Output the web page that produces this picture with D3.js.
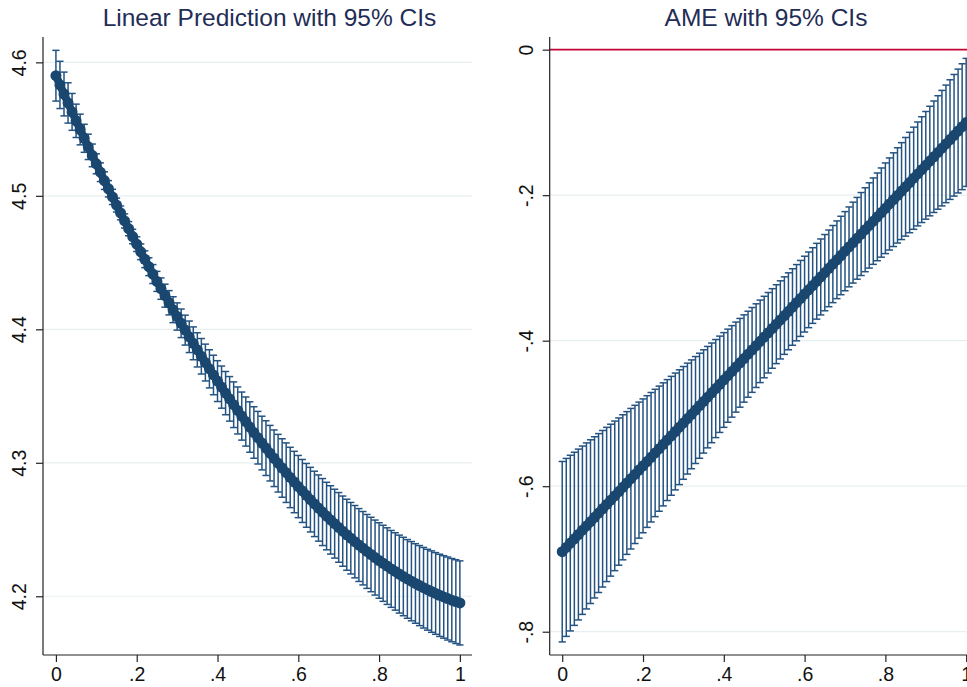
<!DOCTYPE html>
<html>
<head>
<meta charset="utf-8">
<script src="https://cdn.jsdelivr.net/npm/d3@7"></script>
<style>
  html, body { margin: 0; padding: 0; background: #ffffff; }
  svg { display: block; }
</style>
</head>
<body>
<div id="chart"></div>
<script>
// ---------- data ----------
const atValues = [0,.01,.02,.03,.04,.05,.06,.07,.08,.09,.10,.11,.12,.13,.14,.15,.16,.17,.18,.19,.20,.21,.22,.23,.24,.25,.26,.27,.28,.29,.30,.31,.32,.33,.34,.35,.36,.37,.38,.39,.40,.41,.42,.43,.44,.45,.46,.47,.48,.49,.50,.51,.52,.53,.54,.55,.56,.57,.58,.59,.60,.61,.62,.63,.64,.65,.66,.67,.68,.69,.70,.71,.72,.73,.74,.75,.76,.77,.78,.79,.80,.81,.82,.83,.84,.85,.86,.87,.88,.89,.90,.91,.92,.93,.94,.95,.96,.97,.98,.99,1];

const lpMean = [4.5900,4.5831,4.5763,4.5696,4.5629,4.5562,4.5497,4.5431,4.5367,4.5303,4.5240,4.5177,4.5114,4.5053,4.4992,4.4931,4.4872,4.4812,4.4754,4.4695,4.4638,4.4581,4.4525,4.4469,4.4414,4.4359,4.4305,4.4252,4.4199,4.4147,4.4096,4.4045,4.3994,4.3944,4.3895,4.3846,4.3798,4.3751,4.3704,4.3658,4.3612,4.3567,4.3522,4.3479,4.3435,4.3392,4.3350,4.3309,4.3268,4.3227,4.3188,4.3148,4.3110,4.3072,4.3034,4.2997,4.2961,4.2926,4.2890,4.2856,4.2822,4.2789,4.2756,4.2724,4.2692,4.2661,4.2631,4.2601,4.2572,4.2544,4.2516,4.2488,4.2461,4.2435,4.2409,4.2384,4.2360,4.2336,4.2313,4.2290,4.2268,4.2247,4.2226,4.2205,4.2186,4.2166,4.2148,4.2130,4.2113,4.2096,4.2080,4.2064,4.2049,4.2035,4.2021,4.2007,4.1995,4.1983,4.1971,4.1960,4.1950];

const lpHalf = [.0190,.0177,.0164,.0151,.0138,.0125,.0115,.0105,.0095,.0085,.0075,.0070,.0066,.0061,.0057,.0052,.0052,.0053,.0053,.0054,.0055,.0059,.0063,.0067,.0071,.0075,.0080,.0086,.0091,.0097,.0102,.0107,.0112,.0118,.0123,.0128,.0133,.0138,.0143,.0148,.0153,.0158,.0162,.0167,.0171,.0176,.0180,.0184,.0189,.0193,.0197,.0201,.0205,.0208,.0212,.0216,.0219,.0223,.0226,.0230,.0233,.0236,.0239,.0242,.0245,.0248,.0251,.0253,.0256,.0258,.0261,.0263,.0266,.0268,.0271,.0273,.0275,.0277,.0279,.0281,.0283,.0285,.0287,.0288,.0290,.0292,.0294,.0295,.0297,.0298,.0300,.0302,.0303,.0305,.0306,.0308,.0309,.0311,.0312,.0314,.0315];

const ameMean = [-.6900,-.6841,-.6782,-.6723,-.6664,-.6605,-.6546,-.6487,-.6428,-.6369,-.6310,-.6251,-.6192,-.6133,-.6074,-.6015,-.5956,-.5897,-.5838,-.5779,-.5720,-.5661,-.5602,-.5543,-.5484,-.5425,-.5366,-.5307,-.5248,-.5189,-.5130,-.5071,-.5012,-.4953,-.4894,-.4835,-.4776,-.4717,-.4658,-.4599,-.4540,-.4481,-.4422,-.4363,-.4304,-.4245,-.4186,-.4127,-.4068,-.4009,-.3950,-.3891,-.3832,-.3773,-.3714,-.3655,-.3596,-.3537,-.3478,-.3419,-.3360,-.3301,-.3242,-.3183,-.3124,-.3065,-.3006,-.2947,-.2888,-.2829,-.2770,-.2711,-.2652,-.2593,-.2534,-.2475,-.2416,-.2357,-.2298,-.2239,-.2180,-.2121,-.2062,-.2003,-.1944,-.1885,-.1826,-.1767,-.1708,-.1649,-.1590,-.1531,-.1472,-.1413,-.1354,-.1295,-.1236,-.1177,-.1118,-.1059,-.1000];

const ameHalf = [.1240,.1223,.1207,.1190,.1174,.1157,.1141,.1125,.1108,.1092,.1076,.1060,.1044,.1028,.1012,.0997,.0981,.0966,.0950,.0935,.0920,.0905,.0890,.0875,.0860,.0846,.0831,.0817,.0803,.0789,.0775,.0762,.0748,.0735,.0722,.0710,.0697,.0685,.0674,.0662,.0651,.0640,.0629,.0619,.0610,.0600,.0591,.0583,.0575,.0567,.0560,.0553,.0547,.0542,.0537,.0533,.0529,.0526,.0524,.0522,.0521,.0520,.0520,.0521,.0522,.0524,.0527,.0530,.0534,.0539,.0544,.0549,.0556,.0562,.0570,.0577,.0586,.0594,.0603,.0613,.0623,.0633,.0644,.0655,.0666,.0678,.0690,.0702,.0714,.0727,.0740,.0753,.0766,.0780,.0794,.0808,.0822,.0836,.0851,.0865,.0880];

const xTicks = [0, 0.2, 0.4, 0.6, 0.8, 1];
const lpYTicks = [4.2, 4.3, 4.4, 4.5, 4.6];
const ameYTicks = [-0.8, -0.6, -0.4, -0.2, 0];
const titles = ["Linear Prediction with 95% CIs", "AME with 95% CIs"];
const refLineValue = 0;

// ---------- drawing ----------
const W = 967, H = 687;
const FONT = "'Liberation Sans', Arial, Helvetica, sans-serif";
const NAVY = "#1a476f";
const BAR = "#245382";
const GRID = "#e8eff1";
const TITLE = "#1f2d57";

const svg = d3.select("#chart").append("svg")
  .attr("width", W).attr("height", H)
  .attr("viewBox", `0 0 ${W} ${H}`);

const fmt = d => String(d).replace("0.", ".");

function panel(cfg) {
  const { left, right, top, bottom, xDomain, yDomain, mean, half, yTicks, title, titleX, refLine } = cfg;
  const x = d3.scaleLinear().domain(xDomain).range([left, right]);
  const y = d3.scaleLinear().domain(yDomain).range([bottom, top]);
  const g = svg.append("g");

  // gridlines
  g.append("g").selectAll("line").data(yTicks.filter(v => !(refLine !== undefined && v === refLine)))
    .join("line")
    .attr("x1", left).attr("x2", right)
    .attr("y1", d => y(d)).attr("y2", d => y(d))
    .attr("stroke", GRID).attr("stroke-width", 1.2);

  // reference line
  if (refLine !== undefined) {
    g.append("line")
      .attr("x1", left).attr("x2", right)
      .attr("y1", y(refLine)).attr("y2", y(refLine))
      .attr("stroke", "#c10534").attr("stroke-width", 1.6);
  }

  // y axis
  const ya = g.append("g").attr("transform", `translate(${left},0)`)
    .call(d3.axisLeft(y).tickValues(yTicks).tickSize(7).tickFormat(fmt));
  ya.select(".domain").attr("d", `M0,${top}V${bottom}`).attr("stroke", "#222").attr("stroke-width", 1.2);
  ya.selectAll(".tick line").attr("stroke", "#222").attr("stroke-width", 1.2);
  ya.selectAll(".tick text")
    .attr("x", 0).attr("y", -17).attr("dy", null)
    .attr("text-anchor", "middle")
    .attr("transform", "rotate(-90)")
    .attr("font-family", FONT).attr("font-size", 19.5).attr("fill", "#111");

  // x axis
  const xa = g.append("g").attr("transform", `translate(0,${bottom})`)
    .call(d3.axisBottom(x).tickValues(xTicks).tickSize(7).tickFormat(fmt));
  xa.select(".domain").attr("d", `M${left},0H${right}`).attr("stroke", "#222").attr("stroke-width", 1.2);
  xa.selectAll(".tick line").attr("stroke", "#222").attr("stroke-width", 1.2);
  xa.selectAll(".tick text")
    .attr("y", 26).attr("dy", null)
    .attr("font-family", FONT).attr("font-size", 19.5).attr("fill", "#111");

  const data = atValues.map((v, i) => ({ x: v, m: mean[i], lo: mean[i] - half[i], hi: mean[i] + half[i] }));

  // error bars
  const eb = g.append("g").attr("stroke", BAR).attr("stroke-width", 1.5).attr("fill", "none");
  eb.selectAll("line.v").data(data).join("line").attr("class", "v")
    .attr("x1", d => x(d.x)).attr("x2", d => x(d.x))
    .attr("y1", d => y(d.lo)).attr("y2", d => y(d.hi));
  eb.selectAll("line.cl").data(data).join("line").attr("class", "cl")
    .attr("x1", d => x(d.x) - 3.6).attr("x2", d => x(d.x) + 3.6)
    .attr("y1", d => y(d.lo)).attr("y2", d => y(d.lo));
  eb.selectAll("line.ch").data(data).join("line").attr("class", "ch")
    .attr("x1", d => x(d.x) - 3.6).attr("x2", d => x(d.x) + 3.6)
    .attr("y1", d => y(d.hi)).attr("y2", d => y(d.hi));

  // connecting line + markers
  g.append("path").datum(data)
    .attr("d", d3.line().x(d => x(d.x)).y(d => y(d.m)))
    .attr("fill", "none").attr("stroke", NAVY).attr("stroke-width", 8)
    .attr("stroke-linecap", "round");
  g.append("g").selectAll("circle").data(data).join("circle")
    .attr("cx", d => x(d.x)).attr("cy", d => y(d.m)).attr("r", 5.5)
    .attr("fill", NAVY);

  // title
  g.append("text").attr("x", titleX).attr("y", 26)
    .attr("text-anchor", "middle")
    .attr("font-family", FONT).attr("font-size", 24.5).attr("fill", TITLE)
    .text(title);
}

panel({
  left: 43, right: 472, top: 37, bottom: 655,
  xDomain: [-0.032, 1.030], yDomain: [4.156, 4.619],
  mean: lpMean, half: lpHalf, yTicks: lpYTicks,
  title: titles[0], titleX: 269.5
});

panel({
  left: 549.7, right: 978.7, top: 37, bottom: 655,
  xDomain: [-0.031, 1.031], yDomain: [-0.832, 0.0174],
  mean: ameMean, half: ameHalf, yTicks: ameYTicks,
  title: titles[1], titleX: 766, refLine: refLineValue
});
</script>
</body>
</html>
